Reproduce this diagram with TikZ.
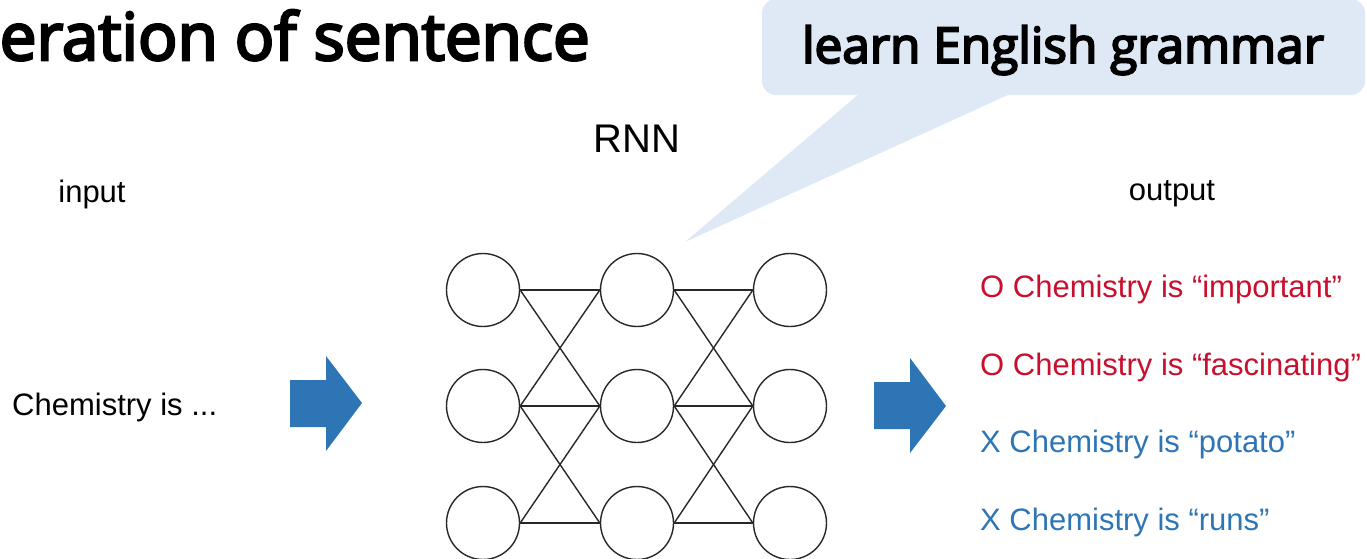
\documentclass[tikz,border=0pt]{standalone}
\usepackage{fontspec}
\setmainfont{Liberation Sans}
\newfontfamily\osemi{Open Sans}[FakeBold=4]
\usetikzlibrary{calc}
\definecolor{okred}{RGB}{200,16,46}
\definecolor{ngblue}{RGB}{46,117,182}
\definecolor{bubble}{RGB}{222,233,245}
\definecolor{edgegray}{RGB}{40,40,40}
\tikzset{
  neuron/.style={circle,draw=edgegray,line width=1.4pt,minimum size=73pt,inner sep=0pt},
  link/.style={draw=edgegray,line width=1.4pt},
  bigarrow/.style={fill=ngblue},
  lbl/.style={inner sep=0pt,font=\fontsize{31}{31}\selectfont},
  good/.style={lbl,anchor=west,text=okred},
  bad/.style={lbl,anchor=west,text=ngblue},
  bubblebox/.style={fill=bubble,rounded corners=14pt,minimum width=603pt,minimum height=96pt,inner sep=0pt}
}
\begin{document}
\begin{tikzpicture}[x=1pt,y=-1pt]
\useasboundingbox (0,0) rectangle (1367,558);
% title
\node[inner sep=0pt,anchor=base east,font=\osemi\fontsize{65.5}{65.5}\selectfont] (title) at (590,60) {eration of sentence};
% callout
\node[bubblebox] (cb) at (1063.5,47) {};
\coordinate (tip) at (685,242);
\fill[bubble] ($(cb.south west)+(98,-2)$) -- (tip) -- ($(cb.south west)+(250,-2)$) -- cycle;
\node[inner sep=0pt,anchor=base,font=\osemi\fontsize{49.5}{49.5}\selectfont] (cbt) at (1063,63) {learn English grammar};
% labels
\node[lbl,font=\fontsize{40}{40}\selectfont] (rnn) at (637,139) {RNN};
\node[lbl] (input) at (92,194) {input};
\node[lbl] (output) at (1172,194) {output};
\node[lbl,anchor=west] (chem) at (12,407) {Chemistry is ...};
\node[good] (o1) at (980,289) {O Chemistry is “important”};
\node[good] (o2) at (980,367) {O Chemistry is “fascinating”};
\node[bad] (o3) at (980,444) {X Chemistry is “potato”};
\node[bad] (o4) at (980,522) {X Chemistry is “runs”};
% network
\foreach \c/\x in {1/483,2/637,3/790}{
  \foreach \r/\y in {1/290,2/406,3/523}{
    \node[neuron] (n\c\r) at (\x,\y) {};
  }
}
\foreach \a/\b in {1/2,2/3}{
  \draw[link] (n\a1.east) -- (n\b1.west);
  \draw[link] (n\a2.east) -- (n\b2.west);
  \draw[link] (n\a3.east) -- (n\b3.west);
  \draw[link] (n\a1.east) -- (n\b2.west);
  \draw[link] (n\a2.east) -- (n\b1.west);
  \draw[link] (n\a2.east) -- (n\b3.west);
  \draw[link] (n\a3.east) -- (n\b2.west);
}
% block arrows
\fill[bigarrow] (290,380) -- (326,380) -- (326,356) -- (362,403) -- (326,451) -- (326,427) -- (290,427) -- cycle;
\fill[bigarrow] (874,382) -- (910,382) -- (910,358) -- (946,406) -- (910,453) -- (910,429) -- (874,429) -- cycle;
\end{tikzpicture}
\end{document}
